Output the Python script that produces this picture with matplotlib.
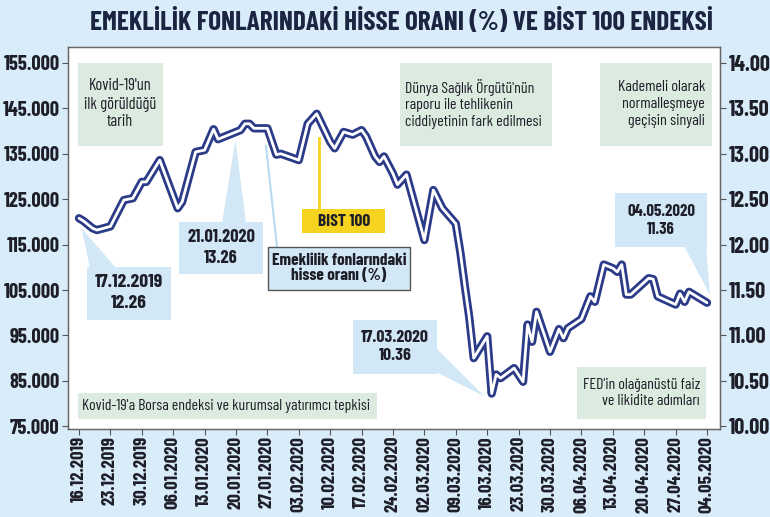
import matplotlib
matplotlib.use('Agg')
import matplotlib.pyplot as plt
import matplotlib.dates as mdates
import pandas as pd
from matplotlib.patches import Polygon, Rectangle
from matplotlib.lines import Line2D

# hisse orani (%) - sag eksen, BIST 100 ayni egriyi sol eksende okuyor
dates = ['16.12.2019', '17.12.2019', '19.12.2019', '20.12.2019', '23.12.2019',
         '26.12.2019', '28.12.2019', '30.12.2019', '31.12.2019', '03.01.2020',
         '07.01.2020', '08.01.2020', '11.01.2020', '13.01.2020', '15.01.2020',
         '16.01.2020', '19.01.2020', '21.01.2020', '22.01.2020', '23.01.2020',
         '24.01.2020', '27.01.2020', '29.01.2020', '30.01.2020', '03.02.2020',
         '05.02.2020', '07.02.2020', '10.02.2020', '11.02.2020', '13.02.2020',
         '15.02.2020', '17.02.2020', '18.02.2020', '20.02.2020', '21.02.2020',
         '22.02.2020', '24.02.2020', '25.02.2020', '27.02.2020', '02.03.2020',
         '04.03.2020', '06.03.2020', '09.03.2020', '10.03.2020', '11.03.2020',
         '12.03.2020', '13.03.2020', '16.03.2020', '17.03.2020', '18.03.2020',
         '19.03.2020', '22.03.2020', '24.03.2020', '25.03.2020', '26.03.2020',
         '27.03.2020', '30.03.2020', '01.04.2020', '02.04.2020', '03.04.2020',
         '06.04.2020', '08.04.2020', '09.04.2020', '11.04.2020', '13.04.2020',
         '14.04.2020', '15.04.2020', '16.04.2020', '17.04.2020', '21.04.2020',
         '22.04.2020', '23.04.2020', '27.04.2020', '28.04.2020', '29.04.2020',
         '30.04.2020', '04.05.2020']
ratio = [12.29, 12.26, 12.18, 12.16, 12.20,
         12.49, 12.51, 12.69, 12.69, 12.93,
         12.40, 12.47, 13.02, 13.04, 13.27,
         13.16, 13.22, 13.26, 13.33, 13.33,
         13.28, 13.28, 12.99, 13.00, 12.93,
         13.33, 13.44, 13.13, 13.06, 13.24,
         13.21, 13.26, 13.19, 12.97, 12.91,
         12.97, 12.78, 12.66, 12.77, 12.05,
         12.60, 12.40, 12.23, 11.92, 11.55,
         11.20, 10.75, 10.99, 10.36, 10.57,
         10.53, 10.64, 10.49, 11.12, 10.93,
         11.26, 10.82, 11.07, 10.97, 11.08,
         11.18, 11.43, 11.37, 11.78, 11.74,
         11.70, 11.78, 11.45, 11.45, 11.63,
         11.62, 11.43, 11.34, 11.46, 11.37,
         11.48, 11.36]

tick_dates = ['16.12.2019', '23.12.2019', '30.12.2019', '06.01.2020', '13.01.2020',
              '20.01.2020', '27.01.2020', '03.02.2020', '10.02.2020', '17.02.2020',
              '24.02.2020', '02.03.2020', '09.03.2020', '16.03.2020', '23.03.2020',
              '30.03.2020', '06.04.2020', '13.04.2020', '20.04.2020', '27.04.2020',
              '04.05.2020']
bist_ticks = [75000, 85000, 95000, 105000, 115000, 125000, 135000, 145000, 155000]
ratio_ticks = [10.0, 10.5, 11.0, 11.5, 12.0, 12.5, 13.0, 13.5, 14.0]

# isaretli noktalar
marks = [('17.12.2019', 12.26), ('21.01.2020', 13.26),
         ('17.03.2020', 10.36), ('04.05.2020', 11.36)]

TITLE = 'EMEKLİLİK FONLARINDAKİ HİSSE ORANI (%) VE BİST 100 ENDEKSİ'
BG = '#d8ecf9'
NAVY = '#2b3b88'
GREEN = '#dcebdf'
NOTE = '#d2e8f7'
YELLOW = '#f6d31e'
DARK = '#1e1e28'

plt.rcParams['font.family'] = ['Barlow Condensed', 'Roboto Condensed', 'Archivo Narrow', 'DejaVu Sans']

W, H = 770, 517
fig = plt.figure(figsize=(W / 100, H / 100), dpi=100, facecolor=BG)
ax = fig.add_axes([68 / W, 1 - 429 / H, (720 - 68) / W, (429 - 47) / H])
ax2 = ax.twinx()
ax.set_facecolor('white')
r = fig.canvas.get_renderer()

d = pd.to_datetime(dates, format='%d.%m.%Y')
ax2.plot(d, ratio, color=NAVY, lw=6, solid_joinstyle='round', solid_capstyle='round', zorder=3)
ax2.plot(d, ratio, color='white', lw=2, solid_joinstyle='round', solid_capstyle='round', zorder=4)

td = pd.to_datetime(tick_dates, format='%d.%m.%Y')
ax.set_xlim(td[0] - pd.Timedelta(days=2.45), td[-1] + pd.Timedelta(days=2.9))
ax.set_ylim(74400, 158500)
ax2.set_ylim(9.97, 14.175)


def fit(t, target):
    # yaziyi referanstaki genislige getir
    w = t.get_window_extent(r).width
    t.set_fontsize(t.get_fontsize() * target / w)
    return t.get_fontsize()


def fit_size(s, target, **kw):
    t = fig.text(0, 0, s, fontsize=13, **kw)
    size = fit(t, target)
    t.remove()
    return size


xs = fit_size(tick_dates[0], 66, fontweight='bold')
ys = fit_size('155.000', 56, fontweight='bold')
rs = fit_size('14.00', 42, fontweight='bold')

ax.set_xticks(td)
ax.set_xticklabels(tick_dates, rotation=90, fontsize=xs, fontweight='bold', color=DARK)
ax.set_yticks(bist_ticks)
ax.set_yticklabels([f'{v:,}'.replace(',', '.') for v in bist_ticks],
                   fontsize=ys, fontweight='bold', color=DARK)
ax2.set_yticks(ratio_ticks)
ax2.set_yticklabels([f'{v:.2f}' for v in ratio_ticks], fontsize=rs, fontweight='bold', color=DARK)
for a in (ax, ax2):
    a.tick_params(direction='out', length=4, width=0.8, color='#555555', pad=2)
    for s in a.spines.values():
        s.set_color('#666666')
        s.set_linewidth(0.9)
ax.tick_params(axis='x', pad=1)

title = fig.text(401 / W, 1 - 22 / H, TITLE, ha='center', va='center',
                 fontsize=28, fontweight='bold', color='#1b2440')
fit(title, 622)


def fx(x):
    return x / W


def fy(y):
    return 1 - y / H


def box(x0, y0, x1, y1, color, ec='none', lw=0):
    fig.add_artist(Rectangle((fx(x0), fy(y1)), fx(x1) - fx(x0), fy(y0) - fy(y1),
                             transform=fig.transFigure, facecolor=color,
                             edgecolor=ec, linewidth=lw, zorder=5))


def tip(date, val, dx=0, dy=0):
    px = ax2.transData.transform((mdates.date2num(pd.to_datetime(date, format='%d.%m.%Y')), val))
    return fig.transFigure.inverted().transform((px[0] + dx, px[1] + dy))


def wedge(p1, p2, t):
    fig.add_artist(Polygon([(fx(p1[0]), fy(p1[1])), (fx(p2[0]), fy(p2[1])), tuple(t)],
                           closed=True, transform=fig.transFigure, facecolor=NOTE,
                           edgecolor='none', zorder=5))


def txt(x, y, s, width, **kw):
    kw.setdefault('color', DARK)
    kw.setdefault('va', 'center')
    kw.setdefault('linespacing', 1.25)
    kw.setdefault('fontsize', 13)
    t = fig.text(fx(x), fy(y), s, zorder=6, **kw)
    fit(t, width)
    return t


# yesil kutular
box(78, 63, 163, 146, GREEN)
txt(120, 104, "Kovid-19'un\nilk görüldüğü\ntarih", 72, ha='center')
box(400, 63, 552, 146, GREEN)
txt(405, 104, "Dünya Sağlık Örgütü'nün\nraporu ile tehlikenin\nciddiyetinin fark edilmesi",
    137, ha='left')
box(600, 63, 712, 146, GREEN)
txt(705, 104, "Kademeli olarak\nnormalleşmeye\ngeçişin sinyali", 88, ha='right')
box(78, 393, 377, 419, GREEN)
txt(82, 406, "Kovid-19'a Borsa endeksi ve kurumsal yatırımcı tepkisi", 288, ha='left')
box(577, 367, 706, 419, GREEN)
txt(700, 393, "FED'in olağanüstü faiz\nve likidite adımları", 117, ha='right')

# tarih / deger kutulari
(m1, v1), (m2, v2), (m3, v3), (m4, v4) = marks
wedge((90, 268), (116, 268), tip(m1, v1, -2, -7))
box(87, 267, 171, 320, NOTE)
txt(129, 293, f'{m1}\n{v1:.2f}', 68, ha='center', fontweight='bold')

wedge((222, 223), (246, 223), tip(m2, v2, -5, -10))
box(179, 222, 263, 274, NOTE)
txt(221, 248, f'{m2}\n{v2:.2f}', 68, ha='center', fontweight='bold')

wedge((436, 348), (436, 372), tip(m3, v3, -7, -3))
box(353, 320, 437, 374, NOTE)
txt(395, 347, f'{m3}\n{v3:.2f}', 68, ha='center', fontweight='bold')

wedge((684, 246), (706, 246), tip(m4, v4, 3, 8))
box(615, 193, 707, 247, NOTE)
txt(661, 220, f'{m4}\n{v4:.2f}', 68, ha='center', fontweight='bold')

# BIST 100 etiketi
fig.add_artist(Line2D([fx(319), fx(319)], [fy(138), fy(209)], transform=fig.transFigure,
                      color=YELLOW, lw=2, zorder=5))
box(302, 209, 385, 233, YELLOW)
txt(344, 221, 'BIST 100', 52, ha='center', fontweight='bold')

# hisse orani etiketi
fig.add_artist(Line2D([fx(266), fx(277)], [fy(146), fy(247)], transform=fig.transFigure,
                      color='#b7daf1', lw=1.5, zorder=5))
box(268, 247, 410, 290, NOTE, ec='#555555', lw=1)
txt(339, 268, 'Emeklilik fonlarındaki\nhisse oranı (%)', 134, ha='center',
    fontweight='bold', linespacing=1.05)

fig.savefig('out.png', dpi=100, facecolor=BG)
